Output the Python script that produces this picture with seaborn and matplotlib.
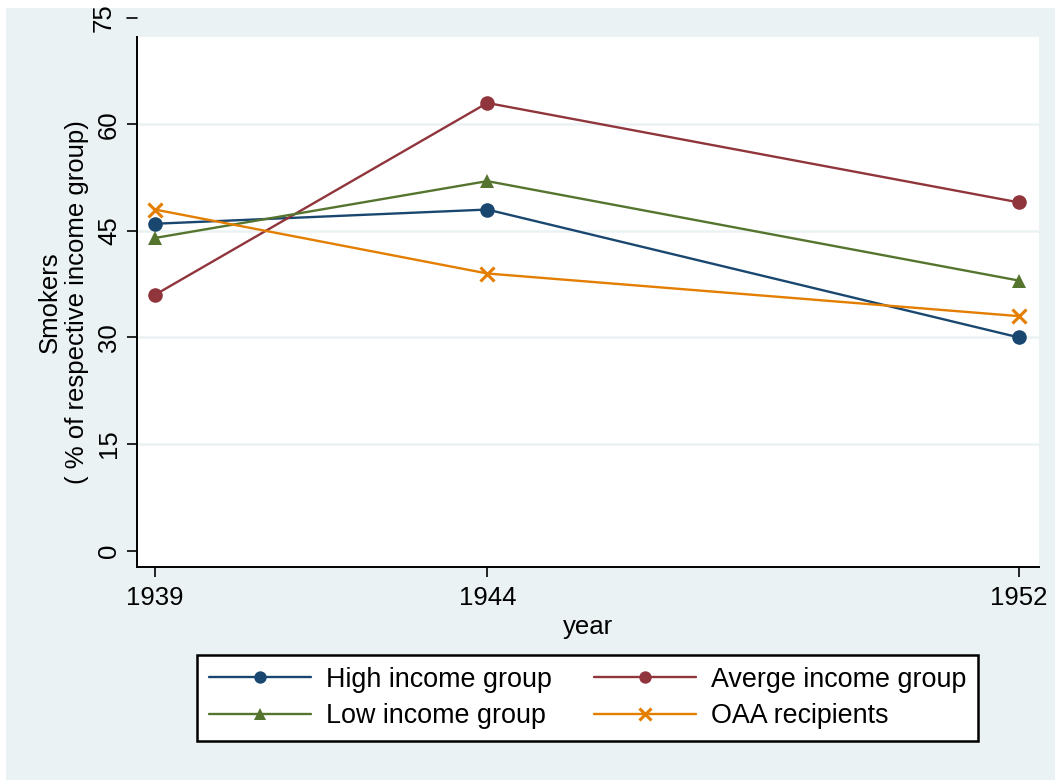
import matplotlib
matplotlib.use("Agg")
import matplotlib.pyplot as plt
import matplotlib.patches as mpatches
import seaborn as sns
import pandas as pd

# Survey years and smoker shares (% of each income group)
years = [1939, 1944, 1952]
high_income = [46, 48, 30]
average_income = [36, 63, 49]
low_income = [44, 52, 38]
oaa_recipients = [48, 39, 33]

series_names = ["High income group", "Averge income group",
                "Low income group", "OAA recipients"]
y_ticks = [0, 15, 30, 45, 60]
y_extra_tick = 75

sns.set_theme(style="white")
plt.rcParams["font.family"] = ["Liberation Sans", "DejaVu Sans"]
plt.rcParams["text.color"] = "black"
plt.rcParams["axes.labelcolor"] = "black"

BG = "#EAF2F3"
FS = 18.5
colors = {"High income group": "#1A476F",
          "Averge income group": "#90353B",
          "Low income group": "#55752F",
          "OAA recipients": "#E37E00"}
markers = {"High income group": "o",
           "Averge income group": "o",
           "Low income group": "^",
           "OAA recipients": "x"}
msizes = {"High income group": 10.5,
          "Averge income group": 10.5,
          "Low income group": 10.5,
          "OAA recipients": 9.5}

df = pd.DataFrame({
    "year": years * 4,
    "value": high_income + average_income + low_income + oaa_recipients,
    "group": sum([[n] * len(years) for n in series_names], []),
})

W, H = 1055, 780
fig = plt.figure(figsize=(W / 100, H / 100), dpi=100, facecolor="white")
# graph region background
fig.patches.append(mpatches.Rectangle((6 / W, 0), 1 - 6 / W, 1 - 8 / H,
                                      transform=fig.transFigure,
                                      facecolor=BG, edgecolor="none", zorder=-10))

ax = fig.add_axes([137 / W, 1 - 567 / H, (1039 - 137) / W, (567 - 37) / H])
ax.set_facecolor("white")

for name in series_names:
    sub = df[df["group"] == name]
    sns.lineplot(data=sub, x="year", y="value", ax=ax, color=colors[name],
                 marker=markers[name], markersize=msizes[name],
                 markeredgewidth=2.2 if markers[name] == "x" else 0,
                 markeredgecolor=colors[name], linewidth=1.7,
                 label=name, legend=False)

ax.set_xlim(1938.73, 1952.30)
ax.set_ylim(-2.3, 72.28)
ax.set_xticks(years)
ax.set_xticklabels([str(y) for y in years])
ax.set_yticks(y_ticks)
ax.set_yticklabels([str(v) for v in y_ticks], rotation=90, va="center")

for v in y_ticks[1:]:
    ax.axhline(v, color=BG, linewidth=1.8, zorder=0.5)

for side in ["top", "right"]:
    ax.spines[side].set_visible(False)
for side in ["left", "bottom"]:
    ax.spines[side].set_color("black")
    ax.spines[side].set_linewidth(1.4)

ax.tick_params(axis="both", which="both", colors="black", labelsize=FS,
               length=7.5, width=1.2, direction="out")
ax.tick_params(axis="y", pad=4)
ax.tick_params(axis="x", pad=6)
ax.yaxis.set_ticks_position("left")
ax.xaxis.set_ticks_position("bottom")

# top label lies beyond the plotted range
ytr = ax.get_yaxis_transform()
ax.plot([-10 / 902, 0 - 0.5 / 902], [y_extra_tick, y_extra_tick], color="black",
        linewidth=1.2, transform=ytr, clip_on=False)
ax.text(-33 / 902, y_extra_tick, str(y_extra_tick), transform=ytr, rotation=90,
        ha="center", va="center", fontsize=FS, clip_on=False)

ax.set_xlabel("year", fontsize=FS, labelpad=4)
ax.set_ylabel("Smokers\n( % of respective income group)", fontsize=FS,
              labelpad=6, linespacing=1.15)

handles, labels = ax.get_legend_handles_labels()
order = [0, 2, 1, 3]
leg = fig.legend([handles[i] for i in order], [labels[i] for i in order],
                 loc="center", bbox_to_anchor=(587.5 / W, 1 - 698 / H),
                 ncol=2, fontsize=19.4, frameon=True, fancybox=False,
                 edgecolor="black", facecolor="white", framealpha=1,
                 handlelength=3.8, handletextpad=0.55, columnspacing=1.55,
                 borderpad=0.45, labelspacing=0.38, markerscale=0.85)
leg.get_frame().set_linewidth(1.8)

fig.savefig("out.png", dpi=100, facecolor="white")
